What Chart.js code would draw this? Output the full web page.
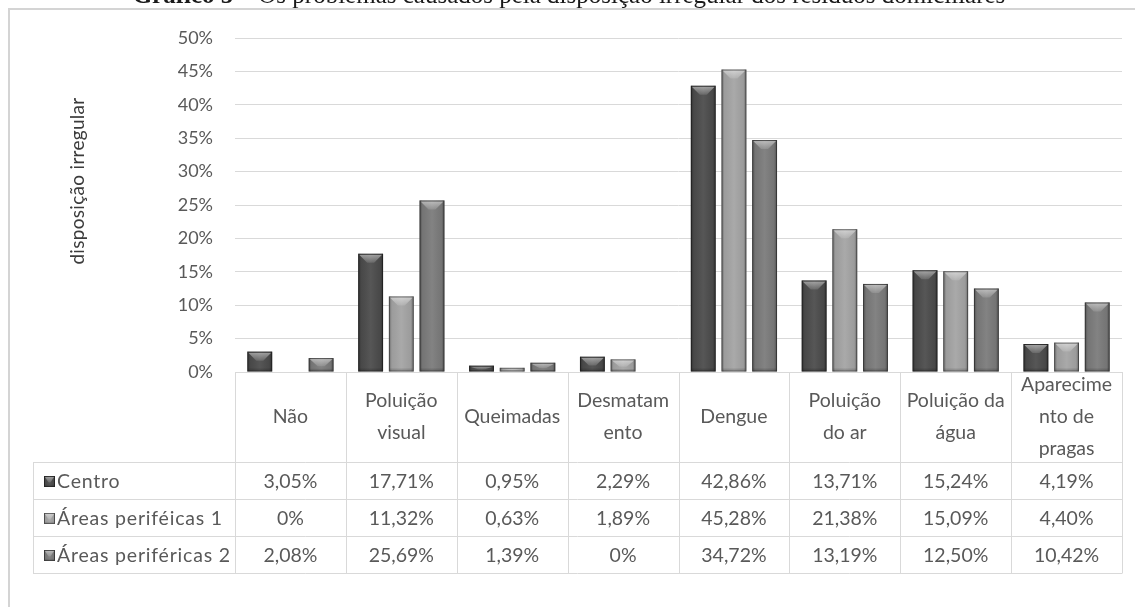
<!DOCTYPE html>
<html>
<head>
<meta charset="utf-8">
<script src="https://cdn.jsdelivr.net/npm/chart.js@4"></script>
<style>
  html, body { margin: 0; padding: 0; background: #fff; }
  canvas { display: block; }
</style>
</head>
<body>
<canvas id="chart" width="1135" height="607"></canvas>
<script>
// Problem categories (header lines of the data table)
const categories = [
  ['Não'],
  ['Poluição', 'visual'],
  ['Queimadas'],
  ['Desmatam', 'ento'],
  ['Dengue'],
  ['Poluição', 'do ar'],
  ['Poluição da', 'água'],
  ['Aparecime', 'nto de', 'pragas']
];

const seriesNames = ['Centro', 'Áreas periféicas 1', 'Áreas periféricas 2'];

// Percentages per area
const centro = [3.05, 17.71, 0.95, 2.29, 42.86, 13.71, 15.24, 4.19];
const areas1 = [0, 11.32, 0.63, 1.89, 45.28, 21.38, 15.09, 4.40];
const areas2 = [2.08, 25.69, 1.39, 0, 34.72, 13.19, 12.50, 10.42];

const yTicks = [0, 5, 10, 15, 20, 25, 30, 35, 40, 45, 50];

const seriesColors = ['#4c4c4c', '#a4a4a4', '#7b7b7b'];

const titleBold = 'Gráfico 5';
const titleRest = ' – Os problemas causados pela disposição irregular dos resíduos domiciliares';
const axisTitle = 'disposição irregular';

const FONT = 'Lato, "Open Sans", sans-serif';
const TEXT = '#595959';
const LINE = '#d9d9d9';

function fmt(v) {
  return v === 0 ? '0%' : v.toFixed(2).replace('.', ',') + '%';
}

// Bevelled shading on top of each drawn bar
function shadeBar(ctx, left, right, top, bottom) {
  const w = right - left, h = bottom - top;
  if (h <= 0) return;
  const g = ctx.createLinearGradient(left, 0, right, 0);
  g.addColorStop(0, 'rgba(0,0,0,0.35)');
  g.addColorStop(0.12, 'rgba(0,0,0,0.05)');
  g.addColorStop(0.5, 'rgba(255,255,255,0.06)');
  g.addColorStop(0.88, 'rgba(0,0,0,0.05)');
  g.addColorStop(1, 'rgba(0,0,0,0.35)');
  ctx.fillStyle = g;
  ctx.fillRect(left, top, w, h);
  // top chevron highlight
  const d = Math.min(9, h * 0.6);
  const gy = ctx.createLinearGradient(0, top, 0, top + d);
  gy.addColorStop(0, 'rgba(255,255,255,0.5)');
  gy.addColorStop(1, 'rgba(255,255,255,0.12)');
  ctx.fillStyle = gy;
  ctx.beginPath();
  ctx.moveTo(left + 1, top + 1);
  ctx.lineTo(right - 1, top + 1);
  ctx.lineTo(right - 1 - w * 0.32, top + d);
  ctx.lineTo(left + 1 + w * 0.32, top + d);
  ctx.closePath();
  ctx.fill();
  // bottom darker lip
  const b = Math.min(3, h * 0.2);
  ctx.fillStyle = 'rgba(0,0,0,0.12)';
  ctx.fillRect(left + 1, bottom - b, w - 2, b);
  ctx.strokeStyle = 'rgba(0,0,0,0.38)';
  ctx.lineWidth = 1;
  ctx.strokeRect(left + 0.5, top + 0.5, w - 1, h - 1);
}

const bevelPlugin = {
  id: 'bevel',
  afterDatasetsDraw(chart) {
    const ctx = chart.ctx;
    ctx.save();
    chart.data.datasets.forEach((ds, i) => {
      const meta = chart.getDatasetMeta(i);
      meta.data.forEach(el => {
        const p = el.getProps(['x', 'y', 'base', 'width'], true);
        const top = Math.min(p.y, p.base), bottom = Math.max(p.y, p.base);
        shadeBar(ctx, p.x - p.width / 2, p.x + p.width / 2, top, bottom);
      });
    });
    ctx.restore();
  }
};

// Data table under the plot, aligned with the category scale
const tablePlugin = {
  id: 'dataTable',
  afterDraw(chart) {
    const ctx = chart.ctx;
    const xs = chart.scales.x;
    const area = chart.chartArea;
    const n = categories.length;
    const top = area.bottom;
    const headBottom = top + 90;
    const rowH = 37;
    const tableBottom = headBottom + rowH * 3;
    const legendLeft = 33;
    const right = area.right;
    ctx.save();
    ctx.strokeStyle = LINE;
    ctx.lineWidth = 1;
    ctx.beginPath();
    // header top
    ctx.moveTo(area.left, top + 0.5); ctx.lineTo(right, top + 0.5);
    // row lines
    for (let r = 0; r <= 3; r++) {
      const y = Math.round(headBottom + r * rowH) + 0.5;
      ctx.moveTo(legendLeft, y); ctx.lineTo(right, y);
    }
    // column lines
    for (let i = 0; i <= n; i++) {
      const x = Math.round(xs.getPixelForValue(i - 0.5)) + 0.5;
      ctx.moveTo(x, top); ctx.lineTo(x, tableBottom + 0.5);
    }
    ctx.moveTo(legendLeft + 0.5, headBottom); ctx.lineTo(legendLeft + 0.5, tableBottom + 0.5);
    ctx.stroke();

    ctx.fillStyle = TEXT;
    ctx.font = '19.5px ' + FONT;
    ctx.textAlign = 'center';
    ctx.textBaseline = 'middle';
    const lh = 32;
    categories.forEach((lines, i) => {
      const cx = xs.getPixelForValue(i);
      const cy = (top + headBottom) / 2;
      lines.forEach((t, k) => {
        ctx.fillText(t, cx, cy + (k - (lines.length - 1) / 2) * lh);
      });
    });
    const series = [centro, areas1, areas2];
    series.forEach((vals, r) => {
      const cy = headBottom + rowH * r + rowH / 2 + 1;
      vals.forEach((v, i) => {
        ctx.fillStyle = TEXT;
        ctx.fillText(fmt(v), xs.getPixelForValue(i), cy);
      });
      // legend key
      const sx = 44, sw = 11, sh = 11;
      ctx.fillStyle = seriesColors[r];
      ctx.fillRect(sx, cy - sh / 2, sw, sh);
      shadeBar(ctx, sx, sx + sw, cy - sh / 2, cy + sh / 2);
      ctx.fillStyle = TEXT;
      ctx.textAlign = 'left';
      ctx.save();
      ctx.letterSpacing = '0.8px';
      ctx.fillText(seriesNames[r], 57, cy);
      ctx.restore();
      ctx.textAlign = 'center';
    });

    // vertical axis title
    ctx.save();
    ctx.translate(78, 181);
    ctx.rotate(-Math.PI / 2);
    ctx.fillStyle = '#3c3c3c';
    ctx.font = '19px ' + FONT;
    ctx.letterSpacing = '0.3px';
    ctx.textAlign = 'center';
    ctx.textBaseline = 'middle';
    ctx.fillText(axisTitle, 0, 0);
    ctx.restore();

    // frame and caption above it
    ctx.strokeStyle = '#d4d4d4';
    ctx.lineWidth = 2;
    ctx.beginPath();
    ctx.moveTo(9, chart.height); ctx.lineTo(9, 9); ctx.lineTo(chart.width, 9);
    ctx.stroke();

    ctx.fillStyle = '#1a1a1a';
    ctx.textBaseline = 'alphabetic';
    ctx.textAlign = 'left';
    const serif = '"Liberation Serif", serif';
    ctx.font = 'bold 25px ' + serif;
    const wb = ctx.measureText(titleBold).width;
    ctx.font = '25px ' + serif;
    const wr = ctx.measureText(titleRest).width;
    const x0 = 569 - (wb + wr) / 2;
    ctx.font = 'bold 25px ' + serif;
    ctx.fillText(titleBold, x0, 3);
    ctx.font = '25px ' + serif;
    ctx.fillText(titleRest, x0 + wb, 3);
    ctx.restore();
  }
};

new Chart(document.getElementById('chart'), {
  type: 'bar',
  data: {
    labels: categories,
    datasets: [
      { label: seriesNames[0], data: centro, backgroundColor: seriesColors[0] },
      { label: seriesNames[1], data: areas1, backgroundColor: seriesColors[1] },
      { label: seriesNames[2], data: areas2, backgroundColor: seriesColors[2] }
    ]
  },
  options: {
    responsive: false,
    animation: false,
    devicePixelRatio: 1,
    layout: { padding: { top: 38, bottom: 235, left: 0, right: 13 } },
    datasets: { bar: { categoryPercentage: 0.83, barPercentage: 0.81 } },
    plugins: { legend: { display: false }, tooltip: { enabled: false } },
    scales: {
      x: { display: false },
      y: {
        min: 0,
        max: 50,
        afterBuildTicks(scale) { scale.ticks = yTicks.map(v => ({ value: v })); },
        afterFit(scale) { scale.width = 235; },
        border: { display: false },
        grid: { color: LINE, drawTicks: false, lineWidth: 1 },
        ticks: {
          padding: 22,
          color: TEXT,
          font: { family: FONT, size: 18 },
          callback: v => v + '%'
        }
      }
    }
  },
  plugins: [bevelPlugin, tablePlugin]
});
</script>
</body>
</html>
